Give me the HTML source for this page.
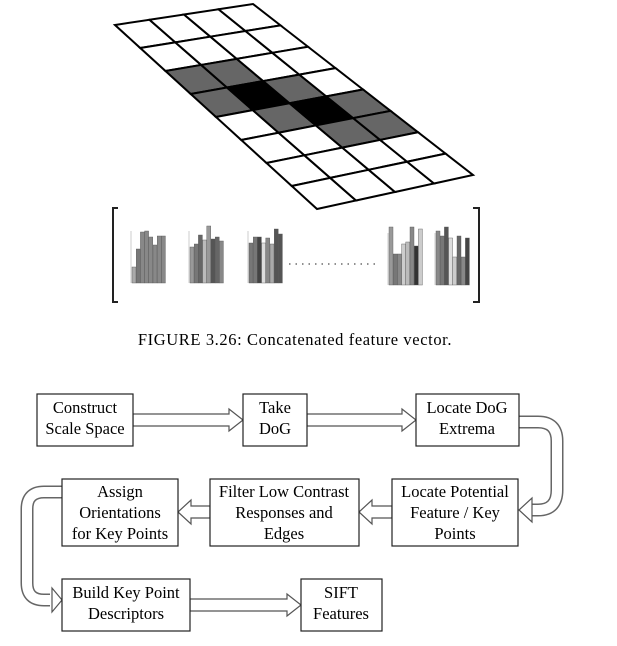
<!DOCTYPE html>
<html><head><meta charset="utf-8"><style>
html,body{margin:0;padding:0;background:#fff;}
svg{display:block}
text{font-family:"Liberation Serif",serif;font-size:16.5px;fill:#000}
</style></head><body>
<svg id="s" width="617" height="646" viewBox="0 0 617 646" xmlns="http://www.w3.org/2000/svg">
<g id="grid"></g>
<g id="hist"></g>
<path d="M118,208 H113 V302 H118" fill="none" stroke="#222" stroke-width="2"/>
<path d="M473,208 H479 V302 H473" fill="none" stroke="#222" stroke-width="2"/>
<line x1="289" y1="264" x2="376" y2="264" stroke="#222" stroke-width="1" stroke-dasharray="1.5,5"/>
<text x="295" y="345" text-anchor="middle" style="font-size:16.5px;letter-spacing:0.6px">FIGURE 3.26: Concatenated feature vector.</text>

<g fill="none" stroke="#666" stroke-width="13">
<path d="M519,422 H538 Q557,422 557,441 V490 Q557,510 538,510 H530"/>
<path d="M62,492 H44 Q27,492 27,509 V583 Q27,600 44,600 H50"/>
</g>
<g fill="none" stroke="#fff" stroke-width="10">
<path d="M518,422 H538 Q557,422 557,441 V490 Q557,510 538,510 H528"/>
<path d="M63,492 H44 Q27,492 27,509 V583 Q27,600 44,600 H52"/>
</g>
<g fill="#fff" stroke="#555" stroke-width="1.2">
<polygon points="133,414 229,414 229,409 243,420 229,431 229,426 133,426"/>
<polygon points="307,414 402,414 402,409 416,420 402,431 402,426 307,426"/>
<polygon points="532,503 532,498 519,510 532,522 532,517"/>
<polygon points="52,593 52,588 62,600 52,612 52,607"/>
<polygon points="392,506 372,506 372,500 359,512 372,524 372,518 392,518"/>
<polygon points="210,506 191,506 191,500 178,512 191,524 191,518 210,518"/>
<polygon points="190,599 287,599 287,594 301,605 287,616 287,611 190,611"/>
</g>
<g fill="#fff" stroke="#222" stroke-width="1.2">
<rect x="37" y="394" width="96" height="52"/>
<rect x="243" y="394" width="64" height="52"/>
<rect x="416" y="394" width="103" height="52"/>
<rect x="62" y="479" width="116" height="67"/>
<rect x="210" y="479" width="149" height="67"/>
<rect x="392" y="479" width="126" height="67"/>
<rect x="62" y="579" width="128" height="52"/>
<rect x="301" y="579" width="81" height="52"/>
</g>
<g text-anchor="middle">
<text x="85" y="413">Construct</text><text x="85" y="434">Scale Space</text>
<text x="275" y="413">Take</text><text x="275" y="434">DoG</text>
<text x="467" y="413">Locate DoG</text><text x="467" y="434">Extrema</text>
<text x="120" y="497">Assign</text><text x="120" y="518">Orientations</text><text x="120" y="539">for Key Points</text>
<text x="284" y="497">Filter Low Contrast</text><text x="284" y="518">Responses and</text><text x="284" y="539">Edges</text>
<text x="455" y="497">Locate Potential</text><text x="455" y="518">Feature / Key</text><text x="455" y="539">Points</text>
<text x="126" y="598">Build Key Point</text><text x="126" y="619">Descriptors</text>
<text x="341" y="598">SIFT</text><text x="341" y="619">Features</text>
</g>
</svg>
<script>
(function(){
var NS="http://www.w3.org/2000/svg";
var TL=[115,25],TR=[253,4],BR=[473,175],BL=[317,209];
function P(u,v){var tx=TL[0]+(TR[0]-TL[0])*u,ty=TL[1]+(TR[1]-TL[1])*u,bx=BL[0]+(BR[0]-BL[0])*u,by=BL[1]+(BR[1]-BL[1])*u;return [tx+(bx-tx)*v,ty+(by-ty)*v];}
var shade={"2,0":"#666","2,1":"#666","3,0":"#666","3,1":"#000","3,2":"#666","4,1":"#666","4,2":"#000","4,3":"#666","5,2":"#666","5,3":"#666"};
var g=document.getElementById("grid");
for(var r=0;r<8;r++)for(var c=0;c<4;c++){
var a=P(c/4,r/8),b=P((c+1)/4,r/8),d=P((c+1)/4,(r+1)/8),e=P(c/4,(r+1)/8);
var p=document.createElementNS(NS,"polygon");
p.setAttribute("points",[a,b,d,e].map(function(q){return q.join(",")}).join(" "));
p.setAttribute("fill",shade[r+","+c]||"#fff");p.setAttribute("stroke","#000");p.setAttribute("stroke-width","2");
g.appendChild(p);}
var H=[[132,283,[47,29,12,11,17,25,16,16],["#aaa","#777","#888","#888","#888","#888","#888","#888"]],
[190,283,[27,24,15,20,6,19,17,21],["#999","#777","#666","#bbb","#999","#555","#666","#888"]],
[249,283,[23,17,17,23,18,24,9,14],["#777","#777","#444","#ddd","#888","#aaa","#555","#555"]],
[389,285,[7,34,34,24,22,7,26,9],["#999","#777","#888","#ccc","#bbb","#888","#333","#ccc"]],
[436,285,[11,16,7,18,37,16,37,18],["#888","#777","#555","#ddd","#ccc","#666","#888","#444"]]];
var hg=document.getElementById("hist");
H.forEach(function(h){
var ax=document.createElementNS(NS,"line");ax.setAttribute("x1",h[0]-1);ax.setAttribute("x2",h[0]-1);ax.setAttribute("y1",h[1]-52);ax.setAttribute("y2",h[1]);ax.setAttribute("stroke","#ccc");hg.appendChild(ax);
for(var i=0;i<8;i++){
var hgt=h[1]-(220+h[2][i]);
var rc=document.createElementNS(NS,"rect");rc.setAttribute("x",h[0]+i*4.2);rc.setAttribute("y",h[1]-hgt);rc.setAttribute("width",4);rc.setAttribute("height",hgt);rc.setAttribute("fill",h[3][i]);rc.setAttribute("stroke","#555");rc.setAttribute("stroke-width","0.4");hg.appendChild(rc);}
});
})();
</script>
</body></html>
